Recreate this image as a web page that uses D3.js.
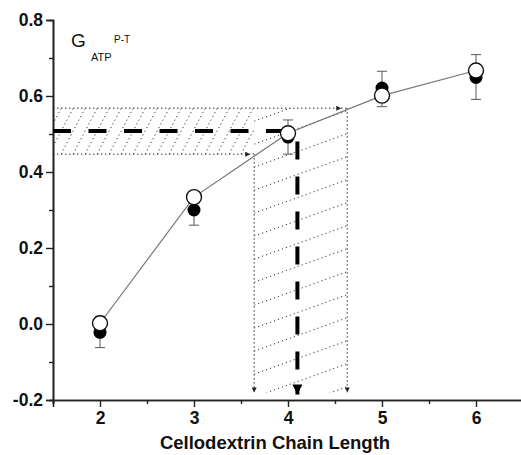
<!DOCTYPE html>
<html>
<head>
<meta charset="utf-8">
<script src="https://cdn.jsdelivr.net/npm/d3@7"></script>
<style>
  body { margin: 0; background: #fff; }
  text { font-family: Arial, "Liberation Sans", sans-serif; }
</style>
</head>
<body>
<div id="wrapper"></div>
<script>
// data
const chainLength = [2, 3, 4, 5, 6]
const openValues = [0.002, 0.334, 0.502, 0.601, 0.667]
const filledValues = [-0.022, 0.300, 0.492, 0.621, 0.649]
const errLow = [-0.062, 0.260, 0.447, 0.572, 0.591]
const errHigh = [0.020, 0.340, 0.537, 0.665, 0.709]

const xMajorTicks = [2, 3, 4, 5, 6]
const xMinorTicks = [1.5, 2.5, 3.5, 4.5, 5.5]
const yMajorTicks = [-0.2, 0.0, 0.2, 0.4, 0.6, 0.8]
const yMinorTicks = [-0.1, 0.1, 0.3, 0.5, 0.7]

// the shaded ranges and the read-off guide
const bandY = [0.447, 0.568]     // horizontal hatched band
const bandX = [3.64, 4.63]       // vertical hatched band
const guideY = 0.508             // thick dashed level
const guideX = 4.10              // thick dashed projection
const guideEndX = 4.07
const bandBottomX = -0.18

let dimensions = {
  width: 521,
  height: 455,
  margin: { top: 20, right: -2, bottom: 55, left: 53 },
}
dimensions.boundedWidth = dimensions.width - dimensions.margin.left - dimensions.margin.right
dimensions.boundedHeight = dimensions.height - dimensions.margin.top - dimensions.margin.bottom

const svg = d3.select("#wrapper")
  .append("svg")
    .attr("width", dimensions.width)
    .attr("height", dimensions.height)

const x = d3.scaleLinear().domain([1.5, 6.5])
  .range([dimensions.margin.left, dimensions.margin.left + dimensions.boundedWidth])
const y = d3.scaleLinear().domain([-0.2, 0.8])
  .range([dimensions.margin.top + dimensions.boundedHeight, dimensions.margin.top])

const defs = svg.append("defs")
defs.append("marker")
    .attr("id", "arrowSmall")
    .attr("viewBox", "0 0 10 10")
    .attr("refX", 10).attr("refY", 5)
    .attr("markerWidth", 7).attr("markerHeight", 5)
    .attr("markerUnits", "userSpaceOnUse")
    .attr("orient", "auto")
  .append("path").attr("d", "M0,0L10,5L0,10Z").attr("fill", "#222")
defs.append("marker")
    .attr("id", "arrowBig")
    .attr("viewBox", "0 0 10 10")
    .attr("refX", 10).attr("refY", 5)
    .attr("markerWidth", 12).attr("markerHeight", 10)
    .attr("markerUnits", "userSpaceOnUse")
    .attr("orient", "auto")
  .append("path").attr("d", "M0,0L10,5L0,10Z").attr("fill", "#000")

const hatchStyle = g => g.attr("stroke", "#333").attr("stroke-width", 1)
  .attr("stroke-dasharray", "1.2,3").attr("fill", "none")

// clip for the horizontal band (left of the vertical band)
defs.append("clipPath").attr("id", "clipH")
  .append("rect")
    .attr("x", x(1.5)).attr("y", y(bandY[1]))
    .attr("width", x(bandX[0]) - x(1.5))
    .attr("height", y(bandY[0]) - y(bandY[1]))
defs.append("clipPath").attr("id", "clipV")
  .append("rect")
    .attr("x", x(bandX[0])).attr("y", y(bandY[1]))
    .attr("width", x(bandX[1]) - x(bandX[0]))
    .attr("height", y(bandBottomX) - y(bandY[1]))

// steep hatch lines in horizontal band
const hTop = y(bandY[1]), hBot = y(bandY[0])
const hLines = d3.range(x(1.5) - 40, x(bandX[0]) + 10, 12)
svg.append("g").attr("clip-path", "url(#clipH)").call(hatchStyle)
  .selectAll("line").data(hLines).join("line")
    .attr("x1", d => d).attr("y1", hBot)
    .attr("x2", d => d + (hBot - hTop) / 1.9).attr("y2", hTop)

// shallow hatch lines in vertical band
const vLeft = x(bandX[0]), vRight = x(bandX[1])
const vLines = d3.range(y(bandY[1]) - 10, y(bandBottomX) + 60, 23)
svg.append("g").attr("clip-path", "url(#clipV)").call(hatchStyle)
  .selectAll("line").data(vLines).join("line")
    .attr("x1", vLeft).attr("y1", d => d)
    .attr("x2", vRight).attr("y2", d => d - (vRight - vLeft) * 0.36)

// band outlines (dotted with small arrows)
const outline = svg.append("g").call(hatchStyle).attr("stroke-dasharray", "1.5,2.5")
outline.append("line")
  .attr("x1", x(1.5)).attr("y1", y(bandY[1]))
  .attr("x2", x(bandX[1])).attr("y2", y(bandY[1]))
outline.append("line")
  .attr("x1", x(bandX[1]) - 10).attr("y1", y(bandY[1]))
  .attr("x2", x(bandX[1]) - 6).attr("y2", y(bandY[1]))
  .attr("stroke-dasharray", null).attr("marker-end", "url(#arrowSmall)")
outline.append("line")
  .attr("x1", x(1.5)).attr("y1", y(bandY[0]))
  .attr("x2", x(bandX[0]) - 4).attr("y2", y(bandY[0]))
  .attr("marker-end", "url(#arrowSmall)")
outline.append("line")
  .attr("x1", x(bandX[0])).attr("y1", y(bandY[0]))
  .attr("x2", x(bandX[0])).attr("y2", y(bandBottomX))
  .attr("marker-end", "url(#arrowSmall)")
outline.append("line")
  .attr("x1", x(bandX[1])).attr("y1", y(bandY[1]))
  .attr("x2", x(bandX[1])).attr("y2", y(bandBottomX))
  .attr("marker-end", "url(#arrowSmall)")

// axes
const xAxis = d3.axisBottom(x).tickValues(xMajorTicks).tickFormat(d3.format("d"))
  .tickSize(7).tickPadding(5)
const xAxisMinor = d3.axisBottom(x).tickValues(xMinorTicks).tickFormat("").tickSize(4)
const yAxis = d3.axisLeft(y).tickValues(yMajorTicks).tickFormat(d3.format(".1f"))
  .tickSize(7).tickPadding(3)
const yAxisMinor = d3.axisLeft(y).tickValues(yMinorTicks).tickFormat("").tickSize(4)

const styleAxis = g => {
  g.select(".domain").attr("stroke", "#222").attr("stroke-width", 1.6)
  g.selectAll(".tick line").attr("stroke", "#222").attr("stroke-width", 1.4)
  g.selectAll(".tick text").attr("fill", "#111")
    .style("font-size", "17.5px").style("font-weight", "bold")
    .style("font-family", "Arial, 'Liberation Sans', sans-serif")
}

svg.append("g").attr("transform", `translate(0,${y(-0.2)})`).call(xAxisMinor).call(styleAxis)
svg.append("g").attr("transform", `translate(0,${y(-0.2)})`).call(xAxis).call(styleAxis)
svg.append("g").attr("transform", `translate(${x(1.5)},0)`).call(yAxisMinor).call(styleAxis)
svg.append("g").attr("transform", `translate(${x(1.5)},0)`).call(yAxis).call(styleAxis)
  .selectAll(".tick text").text(d => d3.format(".1f")(d).replace("−", "-"))

svg.append("text")
  .attr("x", 275).attr("y", 449)
  .attr("text-anchor", "middle")
  .style("font-size", "18.5px").style("font-weight", "bold").attr("fill", "#111")
  .text("Cellodextrin Chain Length")

// label G with sub/superscripts
svg.append("text").attr("x", 71).attr("y", 47).style("font-size", "19px").attr("fill", "#111").text("G")
svg.append("text").attr("x", 91).attr("y", 61).style("font-size", "11px").attr("fill", "#111").text("ATP")
svg.append("text").attr("x", 114).attr("y", 43).style("font-size", "10px").attr("fill", "#111").text("P-T")

// thick dashed guides
svg.append("line")
  .attr("x1", x(1.5)).attr("y1", y(guideY))
  .attr("x2", x(guideEndX)).attr("y2", y(guideY))
  .attr("stroke", "#000").attr("stroke-width", 4)
  .attr("stroke-dasharray", "18,17.5")
svg.append("line")
  .attr("x1", x(guideX)).attr("y1", y(0.48))
  .attr("x2", x(guideX)).attr("y2", y(bandBottomX) + 2)
  .attr("stroke", "#000").attr("stroke-width", 4)
  .attr("stroke-dasharray", "18,17")
  .attr("marker-end", "url(#arrowBig)")

// connecting line through open circles
const line = d3.line().x((d, i) => x(chainLength[i])).y(d => y(d))
svg.append("path").datum(openValues)
  .attr("d", line).attr("fill", "none")
  .attr("stroke", "#777").attr("stroke-width", 1.2)

// error bars
const errG = svg.append("g").attr("stroke", "#666").attr("stroke-width", 1.1)
errG.selectAll(".eb").data(chainLength).join("line")
  .attr("x1", d => x(d)).attr("x2", d => x(d))
  .attr("y1", (d, i) => y(errLow[i])).attr("y2", (d, i) => y(errHigh[i]))
errG.selectAll(".capLow").data(chainLength).join("line").attr("class", "capLow")
  .attr("x1", d => x(d) - 5).attr("x2", d => x(d) + 5)
  .attr("y1", (d, i) => y(errLow[i])).attr("y2", (d, i) => y(errLow[i]))
errG.selectAll(".capHigh").data(chainLength).join("line").attr("class", "capHigh")
  .attr("x1", d => x(d) - 5).attr("x2", d => x(d) + 5)
  .attr("y1", (d, i) => y(errHigh[i])).attr("y2", (d, i) => y(errHigh[i]))

// filled circles
svg.append("g").selectAll("circle").data(chainLength).join("circle")
  .attr("cx", d => x(d)).attr("cy", (d, i) => y(filledValues[i]))
  .attr("r", 6.5).attr("fill", "#000")

// open circles
svg.append("g").selectAll("circle").data(chainLength).join("circle")
  .attr("cx", d => x(d)).attr("cy", (d, i) => y(openValues[i]))
  .attr("r", 7.5).attr("fill", "#fff").attr("stroke", "#111").attr("stroke-width", 1.4)
</script>
</body>
</html>
